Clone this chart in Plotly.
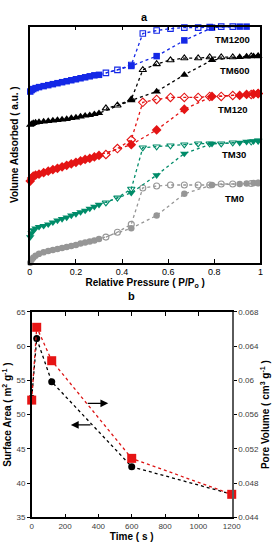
import plotly.graph_objects as go

# ---------------- Panel a : N2 isotherms (a.u.) ----------------
P_ADS = [0.002, 0.008, 0.015, 0.025, 0.04, 0.06, 0.08, 0.10, 0.12, 0.14, 0.16, 0.18,
         0.20, 0.22, 0.24, 0.26, 0.28, 0.30, 0.44, 0.55, 0.67, 0.79, 0.91, 0.94, 0.97, 0.99]
P_DES = [0.99, 0.96, 0.88, 0.83, 0.78, 0.73, 0.67, 0.61, 0.55, 0.49, 0.44, 0.38, 0.33]

TM0_ADS = [0, 3, 5, 7, 9, 10.5, 12, 13, 14, 15, 16, 17, 18, 19.5, 20.5, 21.5, 22.5, 24,
           35, 48, 70, 79, 80, 80.5, 81, 81]
TM0_DES = [81, 80.5, 80, 80, 79, 79, 79, 79, 78, 76, 39, 31, 26]

TM30_ADS = [26, 30, 33, 35, 36.5, 37.5, 39, 41, 43, 44.5, 46, 48, 49.5, 51.5, 53, 55, 57, 59,
            71, 89, 111, 121, 122, 123, 123.5, 124]
TM30_DES = [124, 123, 122, 121, 121, 121, 120, 119, 118, 117, 75, 66, 61]

TM120_ADS = [83, 86, 88, 89, 90, 91.5, 93, 94.5, 96, 97.5, 99, 100.5, 102, 103.5, 105, 106, 107.5, 109,
             120, 135, 156, 169, 170, 171, 171.5, 172]
TM120_DES = [172, 171, 170, 169, 169, 168, 168, 168, 166, 163, 125, 116, 110]

TM600_ADS = [140, 141, 142, 142.5, 143, 143.5, 144, 144.5, 145, 145.5, 146, 147, 147.5, 148.5, 149.5, 150, 151, 152,
             165, 174, 191, 206, 209, 209.5, 210, 210]
TM600_DES = [210, 210, 209, 209, 209, 208, 208, 206, 202, 196, 166, 160, 157]

TM1200_ADS = [174, 175.5, 176.5, 177.5, 178.5, 179.5, 180.5, 181.5, 182.5, 183.5, 184.5, 185.5, 186.5, 187.5,
              188.5, 189.5, 190.5, 191, 200, 210, 226, 239, 240, 240, 240.5, 241]
TM1200_DES = [241, 240.5, 240, 240, 239.5, 239, 239, 238, 236, 233, 201, 196, 193]

SERIES = ["TM0", "TM30", "TM120", "TM600", "TM1200"]
LABEL_P = [0.888, 0.884, 0.88, 0.89, 0.88]
LABEL_V = [65, 110, 156, 195, 227]

# ---------------- Panel b ----------------
TIME = [0, 30, 120, 600, 1200]
SURFACE_AREA = [52.4, 61.1, 54.8, 42.4, 38.4]
PORE_VOLUME = [0.0577, 0.0662, 0.0623, 0.0509, 0.0467]

FONT = "Liberation Sans, Arial, sans-serif"

styles = {
    "TM0": dict(color="rgb(150,150,150)", ads=TM0_ADS, des=TM0_DES,
                sym="circle", osym="circle-open", size=6.5, osize=6),
    "TM30": dict(color="rgb(0,140,105)", ads=TM30_ADS, des=TM30_DES,
                 sym="triangle-down", osym="triangle-down-open", size=7.5, osize=6.5),
    "TM120": dict(color="rgb(228,20,20)", ads=TM120_ADS, des=TM120_DES,
                  sym="diamond", osym="diamond-open", size=7.5, osize=6.5),
    "TM600": dict(color="rgb(0,0,0)", ads=TM600_ADS, des=TM600_DES,
                  sym="triangle-up", osym="triangle-up-open", size=7.5, osize=6.5),
    "TM1200": dict(color="rgb(20,40,230)", ads=TM1200_ADS, des=TM1200_DES,
                   sym="square", osym="square-open", size=6.5, osize=5.5),
}

fig = go.Figure()

for name in SERIES:
    s = styles[name]
    fig.add_trace(go.Scatter(
        x=P_ADS, y=s["ads"], mode="lines+markers", xaxis="x", yaxis="y",
        line=dict(color=s["color"], width=1.3, dash="dot"),
        marker=dict(symbol=s["sym"], size=s["size"], color=s["color"]),
        cliponaxis=False, showlegend=False))
    fig.add_trace(go.Scatter(
        x=P_DES, y=s["des"], mode="lines+markers", xaxis="x", yaxis="y",
        line=dict(color=s["color"], width=1.3, dash="dot"),
        marker=dict(symbol=s["osym"], size=s["osize"], color=s["color"],
                    line=dict(width=1.1, color=s["color"])),
        cliponaxis=False, showlegend=False))

fig.add_trace(go.Scatter(
    x=TIME, y=SURFACE_AREA, mode="lines+markers", xaxis="x2", yaxis="y2",
    line=dict(color="black", width=1.3, dash="dot"),
    marker=dict(symbol="circle", size=7, color="black"),
    cliponaxis=False, showlegend=False))
fig.add_trace(go.Scatter(
    x=TIME, y=PORE_VOLUME, mode="lines+markers", xaxis="x2", yaxis="y3",
    line=dict(color="rgb(220,20,20)", width=1.3, dash="dot"),
    marker=dict(symbol="square", size=9, color="rgb(230,20,20)"),
    cliponaxis=False, showlegend=False))

W, H = 279, 550
def px_x(p): return p / W
def px_y(p): return 1 - p / H

annotations = []
for name, lp, lv in zip(SERIES, LABEL_P, LABEL_V):
    annotations.append(dict(x=lp, y=lv, xref="x", yref="y", text="<b>%s</b>" % name,
                            showarrow=False, xanchor="center", yanchor="middle",
                            font=dict(family=FONT, size=9.5, color="black")))
annotations += [
    dict(x=px_x(148), y=px_y(13), xref="paper", yref="paper", text="<b>a</b>", showarrow=False,
         xanchor="center", yanchor="middle", font=dict(family=FONT, size=11, color="black")),
    dict(x=px_x(134), y=px_y(297), xref="paper", yref="paper", text="<b>b</b>", showarrow=False,
         xanchor="center", yanchor="middle", font=dict(family=FONT, size=11, color="black")),
    dict(x=459, y=51.65, ax=327, ay=51.65, xref="x2", yref="y2", axref="x2", ayref="y2",
         showarrow=True, arrowhead=2, arrowsize=1.2, arrowwidth=1.3, arrowcolor="black", text=""),
    dict(x=235, y=48.5, ax=362, ay=48.5, xref="x2", yref="y2", axref="x2", ayref="y2",
         showarrow=True, arrowhead=2, arrowsize=1.2, arrowwidth=1.3, arrowcolor="black", text=""),
]

fig.update_layout(
    width=W, height=H, margin=dict(l=0, r=0, t=0, b=0),
    paper_bgcolor="white", plot_bgcolor="white",
    font=dict(family=FONT, color="black"),
    xaxis=dict(domain=[px_x(28), px_x(269)], anchor="y", range=[0, 1],
               tickvals=[0, 0.2, 0.4, 0.6, 0.8, 1], ticktext=["0", "0.2", "0.4", "0.6", "0.8", "1"],
               ticks="inside", ticklen=4, tickcolor="black", mirror="ticks",
               showline=True, linecolor="black", linewidth=1.5, showgrid=False, zeroline=False,
               tickfont=dict(size=9, color="black"),
               title=dict(text="<b>Relative Pressure ( P/P<sub>o</sub> )</b>", font=dict(size=10), standoff=2)),
    yaxis=dict(domain=[px_y(263), px_y(23)], anchor="x", range=[0, 240],
               showticklabels=False, ticks="", showline=True, mirror=True,
               linecolor="black", linewidth=1.5, showgrid=False, zeroline=False,
               title=dict(text="<b>Volume Adsorbed ( a.u. )</b>", font=dict(size=10), standoff=8)),
    xaxis2=dict(domain=[px_x(30), px_x(239)], anchor="y2", range=[0, 1200],
                tickvals=[0, 200, 400, 600, 800, 1000, 1200],
                ticks="inside", ticklen=4, tickcolor="black", mirror="ticks",
                showline=True, linecolor="black", linewidth=1.5, showgrid=False, zeroline=False,
                tickfont=dict(size=8, color="rgb(60,60,60)"),
                title=dict(text="<b>Time ( s )</b>", font=dict(size=10), standoff=3)),
    yaxis2=dict(domain=[px_y(522), px_y(313)], anchor="x2", range=[35, 65],
                tickvals=[35, 40, 45, 50, 55, 60, 65],
                ticks="outside", ticklen=3, tickcolor="black",
                showline=True, linecolor="black", linewidth=1.5, showgrid=False, zeroline=False,
                tickfont=dict(size=8, color="rgb(60,60,60)"),
                title=dict(text="<b>Surface Area ( m<sup>2</sup> g<sup>-1</sup> )</b>", font=dict(size=10), standoff=3)),
    yaxis3=dict(overlaying="y2", anchor="x2", side="right", range=[0.044, 0.068],
                tickvals=[0.044, 0.048, 0.052, 0.056, 0.06, 0.064, 0.068],
                ticktext=["0.044", "0.048", "0.052", "0.056", "0.06", "0.064", "0.068"],
                ticks="outside", ticklen=3, tickcolor="black",
                showline=True, linecolor="rgb(90,90,90)", linewidth=2, showgrid=False, zeroline=False,
                tickfont=dict(size=8, color="rgb(60,60,60)"),
                title=dict(text="<b>Pore Volume ( cm<sup>3</sup> g<sup>-1</sup> )</b>", font=dict(size=10), standoff=3)),
    annotations=annotations,
)

fig.write_html("out.html", config={"displayModeBar": False},
               post_script="document.body.style.margin='0';document.body.style.padding='0';")
